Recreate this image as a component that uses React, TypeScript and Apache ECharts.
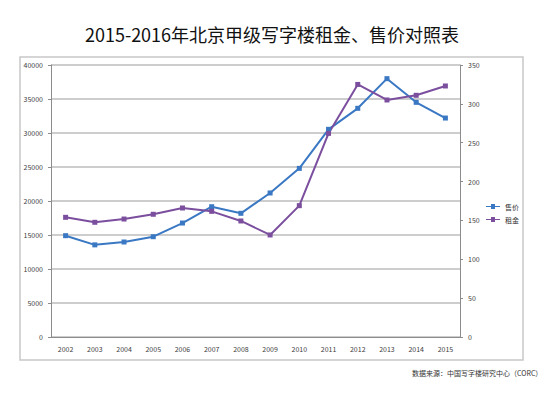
import React, { useEffect, useRef } from "react";
import * as echarts from "echarts";

const years = ["2002", "2003", "2004", "2005", "2006", "2007", "2008", "2009", "2010", "2011", "2012", "2013", "2014", "2015"];
const priceValues = [14900, 13550, 13970, 14750, 16760, 19160, 18190, 21180, 24800, 30540, 33630, 37990, 34510, 32200];
const rentValues = [154, 147.6, 151.8, 157.9, 166, 161.7, 149.3, 131.3, 169, 262, 325, 305, 311, 323];
const titleText = "2015-2016年北京甲级写字楼租金、售价对照表";
const sourceText = "数据来源：中国写字楼研究中心（CORC）";
const seriesNames = ["售价", "租金"];

export default function App() {
  const ref = useRef<HTMLDivElement>(null);
  useEffect(() => {
    if (!ref.current) return;
    const chart = echarts.init(ref.current, null, { renderer: "svg" });
    const font = "'Noto Sans CJK SC', 'Noto Sans', sans-serif";
    const axisLabel = { color: "#404040", fontSize: 7, fontFamily: font, formatter: (v: any) => String(v) };
    const legendIcon = "path://M0,4.5 L14,4.5 L14,5.5 L0,5.5 Z M5,2.5 L9,2.5 L9,7.5 L5,7.5 Z";
    chart.setOption({
      animation: false,
      backgroundColor: "#ffffff",
      title: {
        text: titleText,
        left: "center",
        top: 20,
        textStyle: { fontSize: 18, fontWeight: "normal", color: "#111", fontFamily: font },
      },
      graphic: [
        {
          type: "rect",
          shape: { x: 20, y: 57, width: 503, height: 303 },
          style: { fill: "none", stroke: "#c8c8c8", lineWidth: 1.5 },
          silent: true,
        },
        {
          type: "text",
          x: 412,
          y: 369,
          style: { text: sourceText, fontSize: 7, fill: "#333", fontFamily: font },
        },
      ],
      legend: {
        orient: "vertical",
        left: 481,
        top: 198,
        itemWidth: 14,
        itemHeight: 5,
        itemGap: 6,
        textStyle: { fontSize: 7, color: "#333", fontFamily: font },
        data: [
          { name: seriesNames[0], icon: legendIcon },
          { name: seriesNames[1], icon: legendIcon },
        ],
      },
      grid: { left: 51, right: 84, top: 65, bottom: 58 },
      xAxis: {
        type: "category",
        data: years,
        boundaryGap: true,
        axisLine: { lineStyle: { color: "#8c8c8c" } },
        axisTick: { lineStyle: { color: "#8c8c8c" }, length: 3 },
        axisLabel: { ...axisLabel, margin: 8 },
      },
      yAxis: [
        {
          type: "value",
          min: 0,
          max: 40000,
          interval: 5000,
          axisLine: { show: true, lineStyle: { color: "#8c8c8c" } },
          axisTick: { show: true, length: 3, lineStyle: { color: "#8c8c8c" } },
          splitLine: { lineStyle: { color: "#bdbdbd", width: 1.5 } },
          axisLabel: { ...axisLabel, margin: 8 },
        },
        {
          type: "value",
          min: 0,
          max: 350,
          interval: 50,
          position: "right",
          axisLine: { show: true, lineStyle: { color: "#8c8c8c" } },
          axisTick: { show: true, length: 3, lineStyle: { color: "#8c8c8c" } },
          splitLine: { show: false },
          axisLabel: { ...axisLabel, margin: 8 },
        },
      ],
      series: [
        {
          name: seriesNames[0],
          type: "line",
          data: priceValues,
          yAxisIndex: 0,
          symbol: "rect",
          symbolSize: 5,
          itemStyle: { color: "#3a78c3" },
          lineStyle: { color: "#3a78c3", width: 2 },
        },
        {
          name: seriesNames[1],
          type: "line",
          data: rentValues,
          yAxisIndex: 1,
          symbol: "rect",
          symbolSize: 5,
          itemStyle: { color: "#7b4f9e" },
          lineStyle: { color: "#7b4f9e", width: 2 },
        },
      ],
    });
    return () => chart.dispose();
  }, []);
  return <div ref={ref} style={{ position: "absolute", left: 0, top: 0, width: 544, height: 395 }} />;
}
